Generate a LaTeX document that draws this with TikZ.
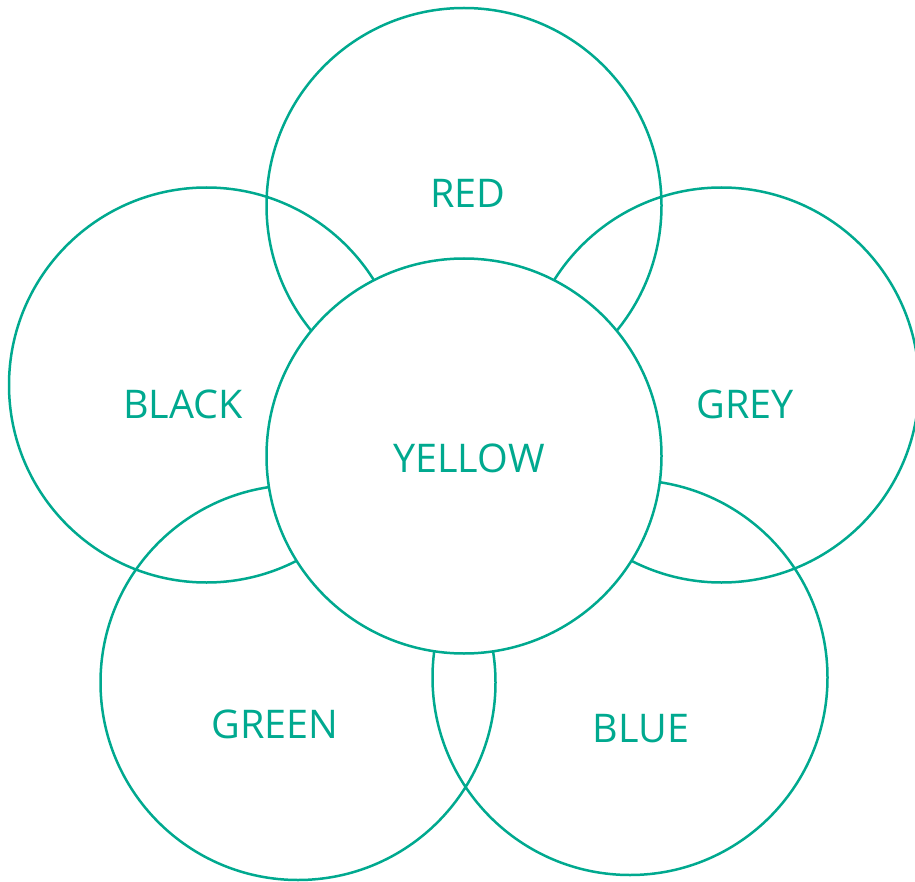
\documentclass[tikz,border=0pt]{standalone}
\usepackage{fontspec}
\setmainfont{Open Sans}
\definecolor{teal1}{HTML}{00A98F}

\begin{document}
\begin{tikzpicture}[x=1pt,y=-1pt,
  ring/.style={draw=teal1,line width=2.5pt},
  word/.style={text=teal1,font=\fontsize{39.5}{42}\selectfont}]
\useasboundingbox (0,0) rectangle (915,882);
\coordinate (red) at (464,205.5); \coordinate (black) at (206.5,385);
\coordinate (grey) at (721.5,385); \coordinate (green) at (298,682.5);
\coordinate (blue) at (630,677.5); \coordinate (yellow) at (464,456);
\draw[ring] (red) circle (197.5) (black) circle (197.5) (grey) circle (197.5);
\draw[ring] (green) circle (197.5) (blue) circle (197.5);
\draw[ring,fill=white] (yellow) circle (197.5);
\node[word] (tred) at (468,193) {RED};
\node[word] (tblack) at (183,404) {BLACK};
\node[word] (tgrey) at (745,404) {GREY};
\node[word] (tyellow) at (469,458) {YELLOW};
\node[word] (tgreen) at (275,724) {GREEN};
\node[word] (tblue) at (641,729) {BLUE};
\end{tikzpicture}
\end{document}
